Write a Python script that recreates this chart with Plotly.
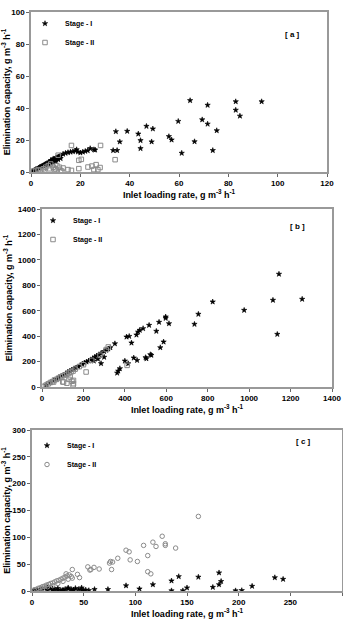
import plotly.graph_objects as go

# ---------------- Panel (a) ----------------
a_s1_x = [0.5, 1, 1.5, 2, 2.5, 3, 3.5, 4, 4.5, 5, 5.5, 6, 6.5, 7, 7.5, 8, 8, 8.5, 9, 9, 9.5, 10, 10, 10.5, 11, 11.5, 12,
          8, 9, 10, 11, 12, 7, 6,
          13, 14, 15, 16, 17, 18, 18.5, 19, 20, 21, 22, 23, 24, 25.5, 26,
          33.3, 34.9, 34.4, 36, 39, 43.5, 44.4, 44.4, 46.8, 49.4, 48.9, 55.9, 57, 59.7, 61.1, 64.5, 66.3, 69.4,
          71.6, 71.6, 73.7, 75.3, 83, 83, 84.7, 93.5]
a_s1_y = [0.4, 0.8, 1.2, 1.7, 2, 2.5, 2.9, 3.3, 3.8, 4.1, 4.6, 5, 5.4, 5.8, 6.2, 6.5, 7.2, 7, 7.6, 8.3, 8, 8.6, 7.5, 9, 9.4, 9.8, 10.2,
          5.5, 6, 6.5, 7.8, 8.5, 5, 4.5,
          11.2, 11.8, 12.2, 12.5, 12.8, 13.2, 14, 12.6, 12, 12.5, 13, 13.4, 14.7, 14, 13.8,
          13.5, 13.5, 25.3, 18.9, 25.5, 23.8, 19.7, 14.7, 28.6, 27, 18.9, 22.2, 20.1, 31.7, 11.8, 44.7, 19, 32.7,
          41.8, 30, 13.5, 25.9, 44, 38.7, 35, 44]
a_s2_x = [1, 2, 3, 4, 5, 6, 7, 8, 9, 10, 10.5, 11, 11.5, 12, 13, 5.5, 7.5, 9.5, 12.5,
          16.4, 15, 16.4, 19.4, 20.4, 23.1, 24.7, 26.4, 27.1, 25.5, 19.4, 28.2, 34.1, 28]
a_s2_y = [0.5, 1, 1.5, 1, 2, 3, 4, 5, 3, 2, 4, 10.5, 3, 1, 2.5, 1, 2, 1.5, 0.5,
          16.6, 1.5, 1, 7.3, 7.9, 3.1, 3.7, 4.6, 1.5, 1.5, 2.1, 16.6, 7.7, 2.8]

# ---------------- Panel (b) ----------------
b_s1_x = [20, 40, 55, 70, 80, 95, 105, 115, 125, 135, 145, 155, 165, 175, 185, 195, 205, 215, 225, 235, 245,
          255, 265, 275, 285, 300, 310, 320, 330,
          250, 270, 285, 300,
          352, 408, 421, 432, 456, 464, 472, 488, 517, 552, 565, 597, 597, 613, 571, 587,
          528, 504, 500, 523, 443, 459, 400, 416, 368, 376, 363,
          736, 755, 824, 976, 1115, 1136, 1144, 1256]
b_s1_y = [15, 35, 50, 62, 75, 88, 95, 105, 118, 125, 135, 145, 150, 160, 170, 180, 190, 198, 205, 215, 225,
          235, 245, 255, 265, 280, 290, 300, 310,
          205, 220, 185, 235,
          341, 394, 399, 347, 410, 433, 447, 460, 486, 439, 510, 552, 541, 499, 310, 355,
          250, 223, 232, 255, 229, 210, 205, 184, 126, 145, 110,
          494, 573, 670, 604, 683, 415, 888, 691]
b_s2_x = [10, 20, 30, 40, 50, 60, 70, 80, 90, 100, 110, 120, 130, 140, 150, 160, 180, 200, 240, 280, 310, 320,
          56, 100, 104, 120, 130, 136, 145, 152, 152, 150, 213, 411]
b_s2_y = [5, 15, 25, 35, 42, 55, 60, 70, 80, 88, 95, 100, 110, 118, 125, 140, 160, 175, 210, 250, 295, 315,
          39, 40, 39, 30, 60, 79, 45, 52, 26, 15, 118, 170]

# ---------------- Panel (c) ----------------
c_s1_x = [2, 5, 8, 10, 12, 15, 18, 20, 22, 25, 28, 30, 32, 35, 38, 40, 42, 45, 48, 50, 52, 55,
          15, 20, 30, 40, 48, 35, 25, 60.5, 73.5,
          91, 104, 117, 135, 135, 142, 146, 150, 161, 175, 181, 183, 181, 197, 203, 213, 235, 243]
c_s1_y = [1, 2, 3, 4, 5, 6, 5, 4, 3, 2, 1, 2, 3, 4, 3, 2, 5, 3, 2, 1, 2, 1,
          2, 1, 0.5, 0.5, 6, 6, 5, 3, 3,
          10, 4, 12, 19, 0.6, 27, 0.6, 6, 26, 7, 12, 18, 34, 0.6, 1, 9, 25, 22]
c_s2_x = [2, 4, 6, 8, 10, 12, 14, 16, 18, 20, 22, 24, 26, 28, 30, 32, 34, 36, 10, 15, 20, 25, 30, 35,
          33, 38, 39, 39, 44, 46, 54, 56, 57, 60, 65, 75, 76, 77, 78, 83, 91, 94, 95, 102,
          108, 112, 112, 115, 117, 120, 126, 129, 129, 139, 161]
c_s2_y = [2, 3, 5, 6, 8, 9, 11, 12, 14, 15, 17, 19, 20, 22, 24, 26, 28, 30, 4, 8, 10, 14, 18, 22,
          32, 27, 40, 24, 31, 25, 45, 39, 40, 44, 41, 52, 55, 40, 54, 61, 76, 73, 58, 55,
          85, 66, 36, 32, 91, 83, 102, 88, 85, 80, 139]

FONT = "Liberation Sans, Arial, sans-serif"
S1 = dict(symbol="star", size=4, color="black", line=dict(width=0.6, color="black"))

def s2(sym):
    return dict(symbol=sym, size=4.5, color="#8a8a8a", line=dict(color="#8a8a8a", width=1))

fig = go.Figure()
fig.add_trace(go.Scatter(x=a_s1_x, y=a_s1_y, mode="markers", name="Stage - I", marker=S1,
                         xaxis="x", yaxis="y", legend="legend"))
fig.add_trace(go.Scatter(x=a_s2_x, y=a_s2_y, mode="markers", name="Stage - II", marker=s2("square-open"),
                         xaxis="x", yaxis="y", legend="legend"))
fig.add_trace(go.Scatter(x=b_s1_x, y=b_s1_y, mode="markers", name="Stage - I", marker=S1,
                         xaxis="x2", yaxis="y2", legend="legend2"))
fig.add_trace(go.Scatter(x=b_s2_x, y=b_s2_y, mode="markers", name="Stage - II", marker=s2("square-open"),
                         xaxis="x2", yaxis="y2", legend="legend2"))
fig.add_trace(go.Scatter(x=c_s1_x, y=c_s1_y, mode="markers", name="Stage - I", marker=S1,
                         xaxis="x3", yaxis="y3", legend="legend3"))
fig.add_trace(go.Scatter(x=c_s2_x, y=c_s2_y, mode="markers", name="Stage - II", marker=s2("circle-open"),
                         xaxis="x3", yaxis="y3", legend="legend3"))

W, H = 343, 626
XT = "Inlet loading rate, g m<sup>-3</sup> h<sup>-1</sup>"
YT = "Elimination capacity, g m<sup>-3</sup> h<sup>-1</sup>"
tickfont = dict(family=FONT, size=8, color="black", weight=700)
titlefont = dict(family=FONT, size=9, color="black", weight=700)

def xax(dom, anchor, rng, dtick):
    return dict(domain=dom, anchor=anchor, range=rng, dtick=dtick, tick0=0, showgrid=False, zeroline=False,
                showline=True, mirror=True, linecolor="#999999", linewidth=1.5, ticks="outside", ticklen=3,
                tickcolor="#666666", tickfont=tickfont, automargin=False,
                title=dict(text=XT, font=titlefont, standoff=4))

def yax(dom, anchor, rng, dtick):
    return dict(domain=dom, anchor=anchor, range=rng, dtick=dtick, tick0=0, showgrid=False, zeroline=False,
                showline=True, mirror=True, linecolor="#999999", linewidth=1.5, ticks="outside", ticklen=3,
                tickcolor="#666666", tickfont=tickfont, automargin=False,
                title=dict(text=YT, font=titlefont, standoff=4))

def leg(x, y):
    return dict(x=x, y=y, xanchor="left", yanchor="top", bgcolor="rgba(0,0,0,0)",
                font=dict(family=FONT, size=7, color="black", weight=700), tracegroupgap=0,
                itemwidth=30, itemclick=False)

ann_font = dict(family=FONT, size=8, color="black", weight=700)

fig.update_layout(
    width=W, height=H, autosize=False, margin=dict(l=0, r=0, t=0, b=0),
    paper_bgcolor="white", plot_bgcolor="white", showlegend=True,
    xaxis=xax([31 / W, 327 / W], "y", [0, 120], 20),
    yaxis=yax([1 - 172 / H, 1 - 12 / H], "x", [0, 100], 20),
    xaxis2=xax([42 / W, 332 / W], "y2", [0, 1400], 200),
    yaxis2=yax([1 - 387 / H, 1 - 209 / H], "x2", [0, 1400], 200),
    xaxis3=xax([32 / W, 342 / W], "y3", [0, 300], 50),
    yaxis3=yax([1 - 591 / H, 1 - 430 / H], "x3", [0, 300], 50),
    legend=leg(25 / W, 1 - 9 / H),
    legend2=leg(33 / W, 1 - 206 / H),
    legend3=leg(27 / W, 1 - 431 / H),
    annotations=[
        dict(text="[ a ]", x=302 / W, y=1 - 28 / H, xref="paper", yref="paper", showarrow=False, font=ann_font),
        dict(text="[ b ]", x=307 / W, y=1 - 226 / H, xref="paper", yref="paper", showarrow=False, font=ann_font),
        dict(text="[ c ]", x=313 / W, y=1 - 448 / H, xref="paper", yref="paper", showarrow=False, font=ann_font),
    ],
)

fig.write_html("out.html")
